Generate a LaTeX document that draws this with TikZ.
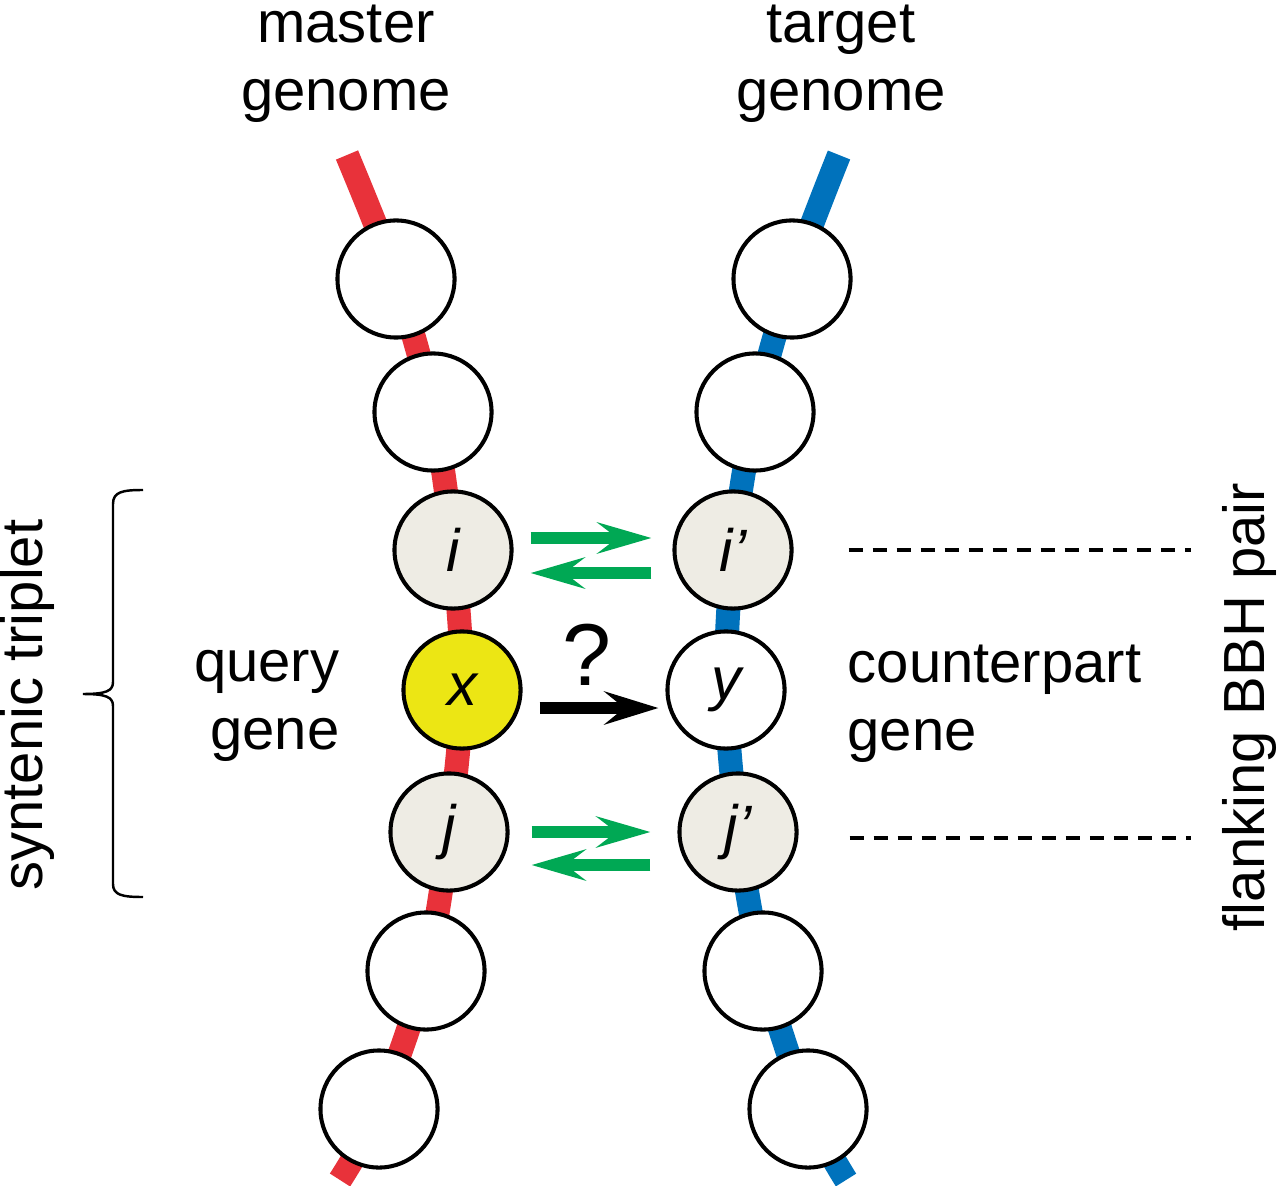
\documentclass[tikz,border=0pt]{standalone}
\usepackage{fontspec}
\setmainfont{Liberation Sans}
\usetikzlibrary{arrows.meta, backgrounds}
\definecolor{chainred}{RGB}{232,50,58}
\definecolor{chainblue}{RGB}{0,114,188}
\definecolor{bbhgreen}{RGB}{0,168,84}
\definecolor{genegray}{RGB}{238,236,228}
\definecolor{queryyellow}{RGB}{236,230,20}
\tikzset{
  gene/.style = {circle, draw=black, line width=1.15pt, fill=white, minimum size=1.17cm, inner sep=0pt, font=\fontsize{17}{20}\selectfont\itshape},
  flank/.style = {gene, fill=genegray},
  query/.style = {gene, fill=queryyellow},
  chain/.style = {line width=0.24cm, line cap=butt},
  txt/.style = {font=\fontsize{16.5}{19.4}\selectfont, inner sep=0pt},
  bbh/.style = {-{Stealth[length=0.54cm, width=0.31cm, inset=0.2cm]}, line width=0.12cm, bbhgreen},
  probe/.style = {-{Stealth[length=0.54cm, width=0.33cm, inset=0.2cm]}, line width=0.12cm, black},
  guide/.style = {dash pattern=on 0.14cm off 0.1cm, line width=0.9pt},
  bracket/.style = {line width=0.7pt}
}
\newcommand{\prm}{\symbol{39}}

\begin{document}
\begin{tikzpicture}[x=0.01cm, y=-0.01cm]
\useasboundingbox (0,0) rectangle (1280,1186);

% master genome
\node[gene]  (m1) at (396,279) {};
\node[gene]  (m2) at (433,412) {};
\node[flank] (mi) at (453,550) {i};
\node[query] (mx) at (462,690) {x};
\node[flank] (mj) at (449,832) {j};
\node[gene]  (m6) at (426,971) {};
\node[gene]  (m7) at (379,1109) {};

% target genome
\node[gene]  (t1) at (792,279) {};
\node[gene]  (t2) at (755,412) {};
\node[flank] (ti) at (733,550) {i\prm};
\node[gene]  (ty) at (726,690) {y};
\node[flank] (tj) at (738,832) {j\prm};
\node[gene]  (t6) at (763,971) {};
\node[gene]  (t7) at (808,1109) {};

\coordinate (mtop) at (347,155);
\coordinate (mbot) at (340,1180);
\coordinate (ttop) at (839,155);
\coordinate (tbot) at (846,1180);

\begin{scope}[on background layer]
\draw[chain, chainred] plot[smooth, tension=0.5] coordinates {(mtop) (m1.center) (m2.center) (mi.center) (mx.center) (mj.center) (m6.center) (m7.center) (mbot)};
\draw[chain, chainblue] plot[smooth, tension=0.5] coordinates {(ttop) (t1.center) (t2.center) (ti.center) (ty.center) (tj.center) (t6.center) (t7.center) (tbot)};
\end{scope}

% labels
\node[txt, align=center] (master) at (346,64) {master\\genome};
\node[txt, align=center] (target) at (841,64) {target\\genome};
\node[txt, align=right, anchor=east] (qgene) at (340,706) {query\\gene};
\node[txt, align=left, anchor=west] (cgene) at (847,704) {counterpart\\gene};
\node[txt, rotate=90] (triplet) at (27,705) {syntenic triplet};
\node[txt, rotate=90] (pair) at (1249,707) {flanking BBH pair};
\node[inner sep=0pt, font=\fontsize{25}{30}\selectfont] (qmark) at (587,655) {?};

% BBH arrows
\draw[bbh, shorten <=0.17cm, shorten >=0.21cm] ([yshift=0.12cm]mi.east) -- ([yshift=0.12cm]ti.west);
\draw[bbh, shorten <=0.21cm, shorten >=0.17cm] ([yshift=-0.23cm]ti.west) -- ([yshift=-0.23cm]mi.east);
\draw[bbh, shorten <=0.22cm, shorten >=0.27cm] (mj.east) -- (tj.west);
\draw[bbh, shorten <=0.27cm, shorten >=0.22cm] ([yshift=-0.33cm]tj.west) -- ([yshift=-0.33cm]mj.east);
\draw[probe, shorten <=0.17cm, shorten >=0.07cm] ([yshift=-0.18cm]mx.east) -- ([yshift=-0.18cm]ty.west);

% dashed guides
\draw[guide, shorten <=0.55cm, shorten >=0.3cm] (ti.east) -- (ti.east -| pair.north);
\draw[guide, shorten <=0.51cm, shorten >=0.3cm] ([yshift=-0.06cm]tj.east) -- ([yshift=-0.06cm]tj.east -| pair.north);

% brace
\draw[bracket] (143,490) .. controls (122,490) and (113,492) .. (113,504) -- (113,682) .. controls (113,691) and (106,694) .. (83,694) .. controls (106,694) and (113,697) .. (113,706) -- (113,884) .. controls (113,895) and (122,897) .. (143,897);

\end{tikzpicture}
\end{document}
